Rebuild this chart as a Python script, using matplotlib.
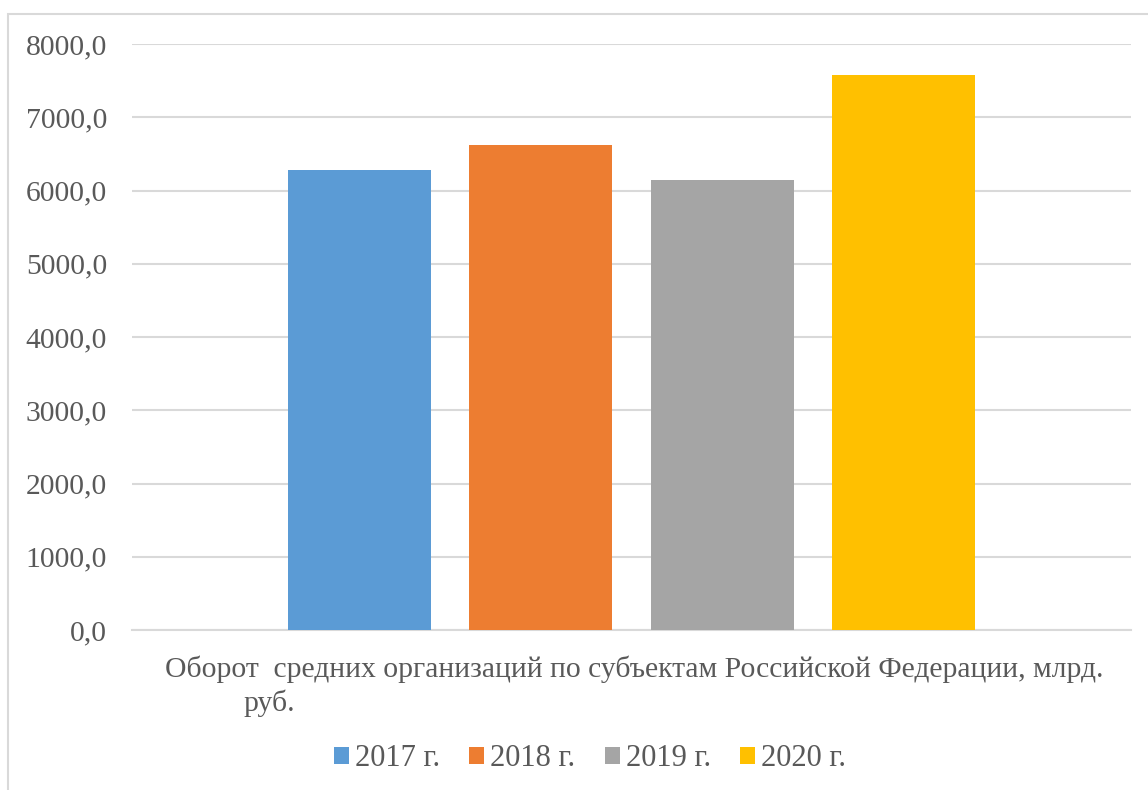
import matplotlib
matplotlib.use("Agg")
import matplotlib.pyplot as plt
from matplotlib.patches import Rectangle, Patch
from matplotlib.ticker import FuncFormatter

years = ["2017 г.", "2018 г.", "2019 г.", "2020 г."]
values = [6283, 6625, 6146, 7570]
colors = ["#5B9BD5", "#ED7D31", "#A5A5A5", "#FFC000"]
yticks = [0, 1000, 2000, 3000, 4000, 5000, 6000, 7000, 8000]
category_line1 = "Оборот  средних организаций по субъектам Российской Федерации, млрд."
category_line2 = "руб."

plt.rcParams['font.family'] = ['Liberation Serif', 'DejaVu Serif']
txt = "#595959"
W, H = 1148, 790
fig = plt.figure(figsize=(W/100, H/100), dpi=100)
fig.patches.append(Rectangle((8/W, -0.1), 1.2, 1 - 14/H + 0.1, transform=fig.transFigure,
                             fill=False, edgecolor="#d9d9d9", linewidth=1.5))

ax = fig.add_axes([132/W, 1 - 630/H, (1131-132)/W, (630-44)/H])
x = list(range(len(values)))
ax.bar(x, values, width=0.79, color=colors, zorder=3)
ax.set_xlim(-1.257, 3 + 1.257)
ax.set_ylim(0, 8000)
ax.set_yticks(yticks)
ax.yaxis.set_major_formatter(FuncFormatter(lambda v, p: f"{v:.1f}".replace(".", ",")))
ax.set_xticks([])
ax.grid(axis="y", color="#d9d9d9", linewidth=1.5, zorder=0)
for s in ["top", "right", "left"]:
    ax.spines[s].set_visible(False)
ax.spines["bottom"].set_color("#d9d9d9")
ax.spines["bottom"].set_linewidth(1.5)
ax.tick_params(axis="y", length=0, pad=18, labelsize=21.3, labelcolor=txt)

fig.text(634/W, 1 - 669/H, category_line1, ha="center", va="center", fontsize=21.3, color=txt)
fig.text(243/W, 1 - 703/H, category_line2, ha="left", va="center", fontsize=21.3, color=txt)

handles = [Patch(facecolor=c, edgecolor="none") for c in colors]
fig.legend(handles, years, loc="center", bbox_to_anchor=(590/W, 1 - 759/H), ncol=4,
           frameon=False, fontsize=22, labelcolor=txt, handlelength=0.49, handleheight=0.49,
           handletextpad=0.2, columnspacing=0.95, borderpad=0)

fig.savefig("out.png", dpi=100)
